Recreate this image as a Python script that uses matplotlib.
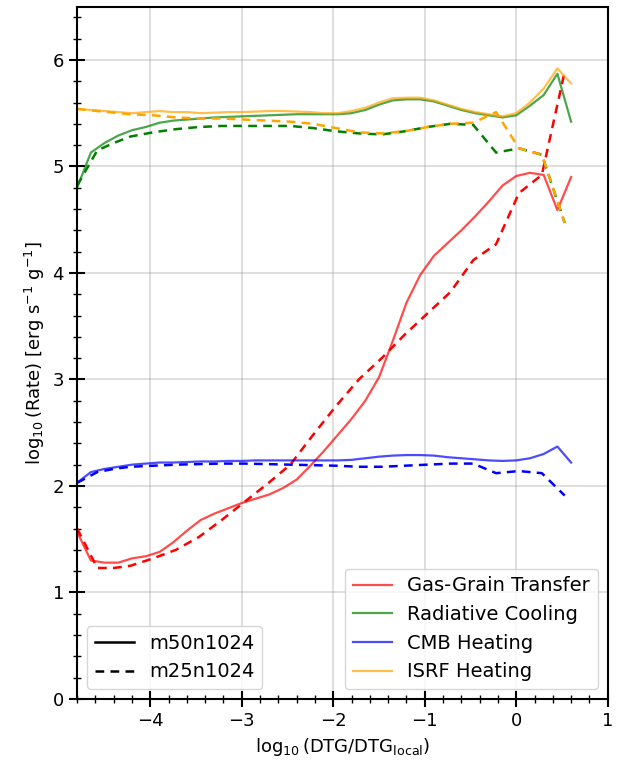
import numpy as np
import matplotlib
matplotlib.use("Agg")
import matplotlib.pyplot as plt
from matplotlib.lines import Line2D
from matplotlib.ticker import MultipleLocator

# m50n1024 (solid)
x_m50 = [-4.8, -4.65, -4.5, -4.35, -4.2, -4.05, -3.9, -3.75, -3.6, -3.45, -3.3, -3.15,
         -3.0, -2.85, -2.7, -2.55, -2.4, -2.25, -2.1, -1.95, -1.8, -1.65, -1.5, -1.35,
         -1.2, -1.05, -0.9, -0.75, -0.6, -0.45, -0.3, -0.15, 0.0, 0.15, 0.3, 0.45, 0.6]
gas_m50 = [1.57, 1.30, 1.28, 1.28, 1.32, 1.34, 1.38, 1.47, 1.58, 1.68, 1.74, 1.79,
           1.84, 1.88, 1.92, 1.98, 2.06, 2.19, 2.33, 2.48, 2.63, 2.80, 3.02, 3.36,
           3.72, 3.98, 4.16, 4.28, 4.40, 4.53, 4.67, 4.82, 4.91, 4.94, 4.92, 4.59, 4.90]
rad_m50 = [4.80, 5.13, 5.22, 5.29, 5.34, 5.37, 5.41, 5.43, 5.44, 5.45, 5.46, 5.465,
           5.47, 5.475, 5.48, 5.485, 5.49, 5.49, 5.49, 5.49, 5.50, 5.53, 5.58, 5.62,
           5.63, 5.63, 5.61, 5.57, 5.53, 5.50, 5.48, 5.46, 5.48, 5.57, 5.67, 5.87, 5.42]
cmb_m50 = [2.03, 2.13, 2.16, 2.18, 2.20, 2.21, 2.22, 2.22, 2.225, 2.23, 2.23, 2.235,
           2.235, 2.24, 2.24, 2.24, 2.24, 2.24, 2.24, 2.24, 2.245, 2.26, 2.275, 2.285,
           2.29, 2.29, 2.285, 2.27, 2.26, 2.25, 2.24, 2.235, 2.24, 2.26, 2.30, 2.37, 2.22]
isrf_m50 = [5.54, 5.53, 5.52, 5.51, 5.50, 5.51, 5.52, 5.51, 5.51, 5.50, 5.505, 5.51,
            5.51, 5.515, 5.52, 5.52, 5.515, 5.51, 5.50, 5.50, 5.52, 5.55, 5.60, 5.64,
            5.645, 5.645, 5.62, 5.58, 5.54, 5.51, 5.49, 5.47, 5.50, 5.60, 5.73, 5.92, 5.78]

# m25n1024 (dashed)
x_m25 = [-4.8, -4.58, -4.4, -4.22, -3.97, -3.72, -3.47, -3.22, -2.97, -2.72, -2.47,
         -2.22, -1.97, -1.72, -1.47, -1.22, -0.97, -0.72, -0.47, -0.22, 0.03, 0.28, 0.53]
gas_m25 = [1.60, 1.23, 1.23, 1.25, 1.32, 1.40, 1.52, 1.68, 1.85, 2.02, 2.20,
           2.48, 2.75, 3.00, 3.20, 3.42, 3.62, 3.82, 4.12, 4.27, 4.75, 4.92, 5.89]
rad_m25 = [4.82, 5.15, 5.22, 5.28, 5.32, 5.35, 5.37, 5.38, 5.38, 5.38, 5.38,
           5.36, 5.33, 5.31, 5.30, 5.33, 5.37, 5.40, 5.39, 5.13, 5.17, 5.11, 4.47]
cmb_m25 = [2.03, 2.13, 2.16, 2.18, 2.19, 2.20, 2.205, 2.21, 2.21, 2.205, 2.20,
           2.195, 2.19, 2.18, 2.18, 2.19, 2.20, 2.21, 2.21, 2.12, 2.14, 2.12, 1.91]
isrf_m25 = [5.54, 5.52, 5.505, 5.49, 5.48, 5.46, 5.45, 5.45, 5.44, 5.43, 5.42,
            5.40, 5.36, 5.32, 5.31, 5.33, 5.37, 5.40, 5.41, 5.51, 5.17, 5.11, 4.47]

labels = ["Gas-Grain Transfer", "Radiative Cooling", "CMB Heating", "ISRF Heating"]
colors = ["red", "green", "blue", "orange"]
models = ["m50n1024", "m25n1024"]

fig = plt.figure(figsize=(6.22, 7.65), dpi=100)
ax = fig.add_axes([0.124, 0.0863, 0.853, 0.905])

solid = [gas_m50, rad_m50, cmb_m50, isrf_m50]
dashed = [gas_m25, rad_m25, cmb_m25, isrf_m25]
handles = []
for lab, c, ys, yd in zip(labels, colors, solid, dashed):
    h, = ax.plot(x_m50, ys, color=c, alpha=0.7, lw=1.6, label=lab)
    ax.plot(x_m25, yd, color=c, lw=1.8, ls=(0, (3.5, 2.5)))
    handles.append(h)

ax.set_xlim(-4.8, 1.0)
ax.set_ylim(0, 6.5)
ax.xaxis.set_major_locator(MultipleLocator(1))
ax.xaxis.set_minor_locator(MultipleLocator(0.2))
ax.yaxis.set_major_locator(MultipleLocator(1))
ax.yaxis.set_minor_locator(MultipleLocator(0.2))
ax.tick_params(which="major", direction="inout", length=12, width=1.5, labelsize=13)
ax.tick_params(which="minor", direction="inout", length=6, width=1.0)
for s in ax.spines.values():
    s.set_linewidth(1.5)
ax.grid(True, which="major", color="gray", alpha=0.3, lw=1.2)

ax.set_xlabel(r"$\log_{10}$(DTG/DTG$_{\rm local}$)", fontsize=13)
ax.set_ylabel(r"$\log_{10}$(Rate) [erg s$^{-1}$ g$^{-1}$]", fontsize=13)

leg1 = ax.legend(handles=handles, loc="lower right", fontsize=14)
ax.add_artist(leg1)
mh = [Line2D([], [], color="black", lw=1.8, ls="-"),
      Line2D([], [], color="black", lw=1.8, ls=(0, (3.5, 2.5)))]
ax.legend(mh, models, loc="lower left", fontsize=14)

fig.savefig("out.png", dpi=100)
